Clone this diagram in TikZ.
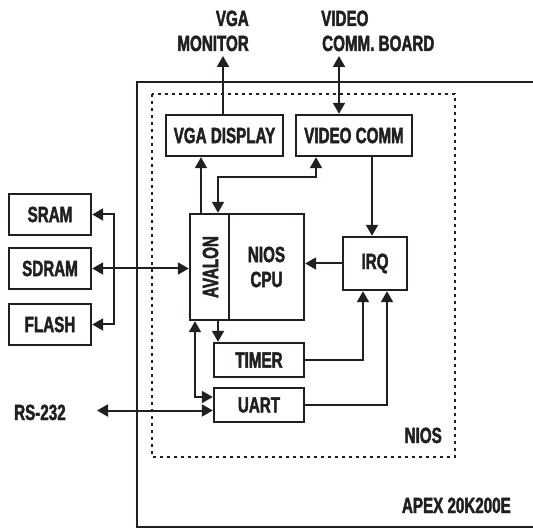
\documentclass[tikz,border=0pt]{standalone}
\usepackage{fontspec}
\newfontfamily\lab{Liberation Sans}[UprightFont={* Bold},FakeStretch=0.69,FakeBold=2]
\usetikzlibrary{arrows.meta}
\definecolor{ink}{HTML}{231F20}
\tikzset{
  tip/.tip={Triangle[length=11pt,width=12pt]},
  box/.style={draw=ink,line width=2.4pt,inner sep=0pt,text=ink,font=\lab\fontsize{22}{25}\selectfont,align=center},
  lbl/.style={inner sep=0pt,text=ink,font=\lab\fontsize{22}{25}\selectfont},
  conn/.style={draw=ink,line width=2pt},
  arr/.style={conn,-tip},
  darr/.style={conn,tip-tip},
  outer/.style={draw=ink,line width=1.7pt},
  dotbox/.style={draw=ink,line width=1.7pt,dash pattern=on 3pt off 4pt}
}
\begin{document}
\begin{tikzpicture}[x=1pt,y=-1pt]
\useasboundingbox (0,0) rectangle (533,529);
% frames
\draw[outer] (533,82) -- (137,82) -- (137,527) -- (533,527);
\draw[dotbox] (152,94) rectangle (455,457);
% boxes
\node[box,minimum width=117pt,minimum height=41pt] (vga) at (224.5,135.5) {VGA DISPLAY};
\node[box,minimum width=116pt,minimum height=41pt] (vcomm) at (354,135.5) {VIDEO COMM};
\node[box,minimum width=39pt,minimum height=106pt] (avalon) at (209.5,267) {};
\node[lbl,rotate=90] (avalontxt) at (210.5,267) {AVALON};
\node[box,minimum width=75pt,minimum height=106pt] (cpu) at (266.5,267) {NIOS\\CPU};
\node[box,minimum width=64pt,minimum height=53pt] (irq) at (375,263.5) {IRQ};
\node[box,minimum width=82pt,minimum height=41pt] (sram) at (50,214.5) {SRAM};
\node[box,minimum width=82pt,minimum height=41pt] (sdram) at (50,268.5) {SDRAM};
\node[box,minimum width=82pt,minimum height=41pt] (flash) at (50,324.5) {FLASH};
\node[box,minimum width=90pt,minimum height=34pt] (timer) at (259,360) {TIMER};
\node[box,minimum width=90pt,minimum height=34pt] (uart) at (259,405) {UART};
% labels
\node[lbl,anchor=base east] (vgaA) at (249,26) {VGA};
\node[lbl,anchor=base east] (vgaB) at (249,51) {MONITOR};
\node[lbl,anchor=base west] (vidA) at (321,26) {VIDEO};
\node[lbl,anchor=base west] (vidB) at (322,51) {COMM. BOARD};
\node[lbl,anchor=base west] (rs) at (14,420) {RS-232};
\node[lbl,anchor=base east] (nios) at (442,443) {NIOS};
\node[lbl,anchor=base east] (apex) at (511,513) {APEX 20K200E};
% free ends
\coordinate (vgaup) at (223,56);
\coordinate (vcup) at (339,56);
\coordinate (rsend) at (97,410.5);
% connectors
\draw[arr] (vgaup |- vga.north) -- (vgaup);
\draw[darr] (vcup |- vcomm.north) -- (vcup);
\draw[arr] (201,0 |- avalon.north) -- (201,0 |- vga.south);
\draw[darr] (316,0 |- vcomm.south) -- (316,177) -| (218,0 |- avalon.north);
\draw[arr] (372,0 |- vcomm.south) -- (372,0 |- irq.north);
\draw[arr] (irq.west) -- (irq.west -| cpu.east);
\draw[darr] (sdram.east) -- (sdram.east -| avalon.west);
\draw[darr] (sram.east) -- ++(22,0) |- (flash.east);
\draw[arr] (218,0 |- avalon.south) -- (218,0 |- timer.north);
\draw[darr] (195,0 |- avalon.south) |- (uart.west |- 0,397);
\draw[darr] (rsend) -- (uart.west |- rsend);
\draw[arr] (timer.east) -| (363,0 |- irq.south);
\draw[arr] (uart.east) -| (387,0 |- irq.south);
\end{tikzpicture}
\end{document}
